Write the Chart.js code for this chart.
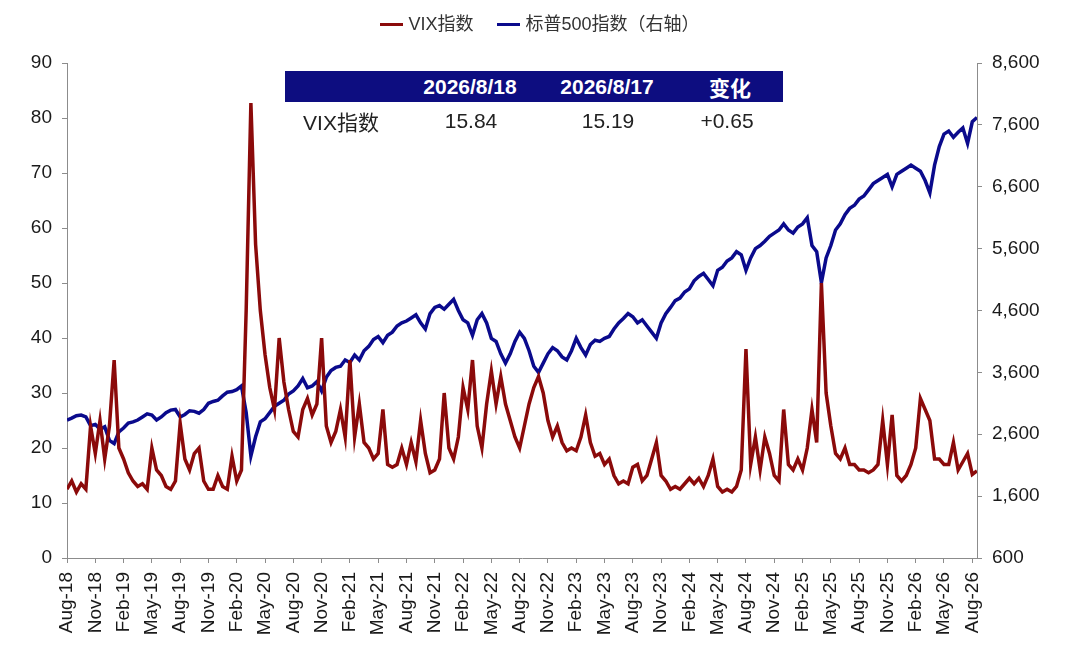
<!DOCTYPE html>
<html>
<head>
<meta charset="utf-8">
<script src="https://cdn.jsdelivr.net/npm/chart.js@4"></script>
<style>
  html, body { margin: 0; padding: 0; background: #fff; }
  #wrap { position: relative; width: 1080px; height: 663px; font-family: 'Liberation Sans', Arial, 'Noto Sans CJK SC', sans-serif; }
  #legend { position: absolute; top: 9px; left: 0; width: 1080px; text-align: center; font-size: 18px; color: #333; }
  #legend span { display: inline-block; margin: 0 12px; }
  #legend i { display: inline-block; width: 23px; height: 3px; vertical-align: middle; margin-right: 5px; position: relative; top: -1px; }
  #tbl { position: absolute; left: 285px; top: 71px; width: 498px; }
  #tbl .head { height: 31px; background: #0d0d80; color: #fff; font-weight: bold; font-size: 21px; position: relative; }
  #tbl .row { height: 38px; color: #222; font-size: 21px; position: relative; }
  #tbl div div { position: absolute; top: 50%; transform: translate(-50%, -50%); white-space: nowrap; }
</style>
</head>
<body>
<div id="wrap">
  <canvas id="myChart" width="1080" height="663"></canvas>
  <div id="legend"></div>
  <div id="tbl"></div>
</div>
<script>
// 刻度：每三个月一个
var tickLabels = ['Aug-18','Nov-18','Feb-19','May-19','Aug-19','Nov-19','Feb-20','May-20','Aug-20','Nov-20',
  'Feb-21','May-21','Aug-21','Nov-21','Feb-22','May-22','Aug-22','Nov-22','Feb-23','May-23','Aug-23','Nov-23',
  'Feb-24','May-24','Aug-24','Nov-24','Feb-25','May-25','Aug-25','Nov-25','Feb-26','May-26','Aug-26'];

// 半月一个点，从 2018年8月 开始
var vix = [
  12.5, 14, 12, 13.5, 12.5, 24, 19, 25, 18, 24,
  36, 20, 18, 15.5, 14, 13, 13.5, 12.5, 20, 16,
  15, 13, 12.5, 14, 24.5, 18, 16, 19, 20, 14,
  12.5, 12.5, 15, 13, 12.5, 18.5, 14, 16, 45, 82.7,
  57, 45, 37, 31, 27, 40, 32, 27, 23, 22,
  27, 29, 26, 28, 40, 24, 21, 23, 27, 22,
  36, 22, 28, 21, 20, 18, 19, 27, 17, 16.5,
  17, 20, 17, 21, 17.5, 25, 19, 15.5, 16, 18,
  30, 20, 18, 22, 31, 27, 36, 24, 20, 28,
  34, 28, 33, 28, 25, 22, 20, 24, 28, 31,
  33, 30, 25, 22, 24, 21, 19.5, 20, 19.5, 22,
  26, 21, 18.5, 19, 17, 18, 15, 13.5, 14, 13.5,
  16.5, 17, 14, 15, 18, 21, 15, 14, 12.5, 13,
  12.5, 13.5, 14.5, 13.5, 14.5, 13, 15, 18, 13, 12,
  12.5, 12, 13, 16, 38, 17, 22, 16, 22, 19,
  15, 14, 27, 17, 16, 18, 16, 20, 27, 21,
  50, 30, 24, 19, 18, 20, 17, 17, 16, 16,
  15.5, 16, 17, 25, 17, 26, 15, 14, 15, 17,
  20, 29, 27, 25, 18, 18, 17, 17, 21, 16,
  17.5, 19, 15.19, 15.84
];

var spx = [
  2830, 2860, 2900, 2910, 2880, 2740, 2760, 2680, 2720, 2500,
  2450, 2640, 2700, 2780, 2800, 2830, 2880, 2930, 2910, 2830,
  2880, 2950, 2990, 3000, 2880, 2920, 2980, 2970, 2940, 3000,
  3100, 3130, 3150, 3220, 3280, 3290, 3320, 3380, 2950, 2250,
  2560, 2800, 2850, 2950, 3050, 3100, 3150, 3250, 3300, 3380,
  3500, 3350, 3380, 3450, 3300, 3520, 3630, 3680, 3700, 3800,
  3760, 3880, 3800, 3950, 4020, 4130, 4180, 4080, 4200, 4250,
  4350, 4400, 4430, 4480, 4530, 4400, 4300, 4550, 4650, 4680,
  4620, 4700, 4780, 4600, 4450, 4400, 4200, 4450, 4550, 4400,
  4150, 4100, 3900, 3750, 3900, 4100, 4250, 4150, 3950, 3700,
  3600, 3750, 3900, 4000, 3950, 3850, 3800, 3950, 4150, 4000,
  3880, 4050, 4120, 4100, 4150, 4180, 4300, 4400, 4470, 4550,
  4500, 4400, 4450, 4350, 4250, 4150, 4400, 4550, 4650, 4760,
  4800, 4900, 4950, 5080, 5150, 5200, 5100, 5000, 5250, 5300,
  5400, 5450, 5550, 5500, 5250, 5450, 5600, 5650, 5720, 5800,
  5850, 5900, 6000, 5900, 5850, 5950, 6000, 6100, 5650, 5550,
  5050, 5450, 5650, 5900, 6000, 6150, 6250, 6300, 6400, 6450,
  6550, 6650, 6700, 6750, 6800, 6600, 6800, 6850, 6900, 6950,
  6900, 6850, 6700, 6500, 6950, 7250, 7450, 7500, 7400, 7480,
  7550, 7300, 7650, 7720
];

var seriesNames = ['VIX指数', '标普500指数（右轴）'];
var seriesColors = ['#8b0a0a', '#0a0a8c'];

// 表格
var tableHead = ['2026/8/18', '2026/8/17', '变化'];
var tableRow = ['VIX指数', '15.84', '15.19', '+0.65'];

// x 按月计，半月一个点
function toPoints(arr) {
    return arr.map(function(v, i) { return { x: i / 2, y: v }; });
}

var lg = document.getElementById('legend');
seriesNames.forEach(function(n, k) {
    lg.innerHTML += '<span><i style="background:' + seriesColors[k] + '"></i>' + n + '</span>';
});

var tb = document.getElementById('tbl');
var colX = [185, 322, 445];
var rowX = [56, 186, 323, 442];
var h = '<div class="head">';
tableHead.forEach(function(t, k) { h += '<div style="left:' + colX[k] + 'px">' + t + '</div>'; });
h += '</div><div class="row">';
tableRow.forEach(function(t, k) { h += '<div style="left:' + rowX[k] + 'px">' + t + '</div>'; });
h += '</div>';
tb.innerHTML = h;

var axisColor = '#8c8c8c';
var tickFont = { family: "'Liberation Sans', Arial", size: 19 };

var ctx = document.getElementById('myChart').getContext('2d');
var chart = new Chart(ctx, {
    type: 'line',
    data: {
        datasets: [{
            label: seriesNames[0],
            data: toPoints(vix),
            borderColor: seriesColors[0],
            backgroundColor: seriesColors[0],
            borderWidth: 3.5,
            pointRadius: 0,
            tension: 0,
            yAxisID: 'y'
        }, {
            label: seriesNames[1],
            data: toPoints(spx),
            borderColor: seriesColors[1],
            backgroundColor: seriesColors[1],
            borderWidth: 3.5,
            pointRadius: 0,
            tension: 0,
            yAxisID: 'y2'
        }]
    },
    options: {
        responsive: false,
        animation: false,
        layout: { padding: { top: 63, left: 0, right: 0, bottom: 0 } },
        plugins: { legend: { display: false }, tooltip: { enabled: false } },
        scales: {
            x: {
                type: 'linear',
                min: 0,
                max: 96.5,
                grid: { drawOnChartArea: false, drawTicks: true, tickLength: 5, color: axisColor },
                border: { color: axisColor },
                ticks: {
                    stepSize: 3,
                    includeBounds: false,
                    autoSkip: false,
                    minRotation: 90,
                    maxRotation: 90,
                    padding: 9,
                    color: '#1a1a1a',
                    font: { family: "'Liberation Sans', Arial", size: 19 },
                    callback: function(v) { return tickLabels[Math.round(v / 3)]; }
                },
                afterFit: function(s) { s.height = 105; }
            },
            y: {
                position: 'left',
                min: 0,
                max: 90,
                grid: { drawOnChartArea: false, drawTicks: true, tickLength: 5, color: axisColor },
                border: { color: axisColor },
                ticks: { stepSize: 10, padding: 10, color: '#1a1a1a', font: tickFont },
                afterFit: function(s) { s.width = 67; }
            },
            y2: {
                position: 'right',
                min: 600,
                max: 8600,
                grid: { drawOnChartArea: false, drawTicks: true, tickLength: 5, color: axisColor },
                border: { color: axisColor },
                ticks: {
                    stepSize: 1000,
                    padding: 10,
                    color: '#1a1a1a',
                    font: tickFont,
                    callback: function(v) { return v.toLocaleString('en-US'); }
                },
                afterFit: function(s) { s.width = 103; }
            }
        }
    }
});
</script>
</body>
</html>
